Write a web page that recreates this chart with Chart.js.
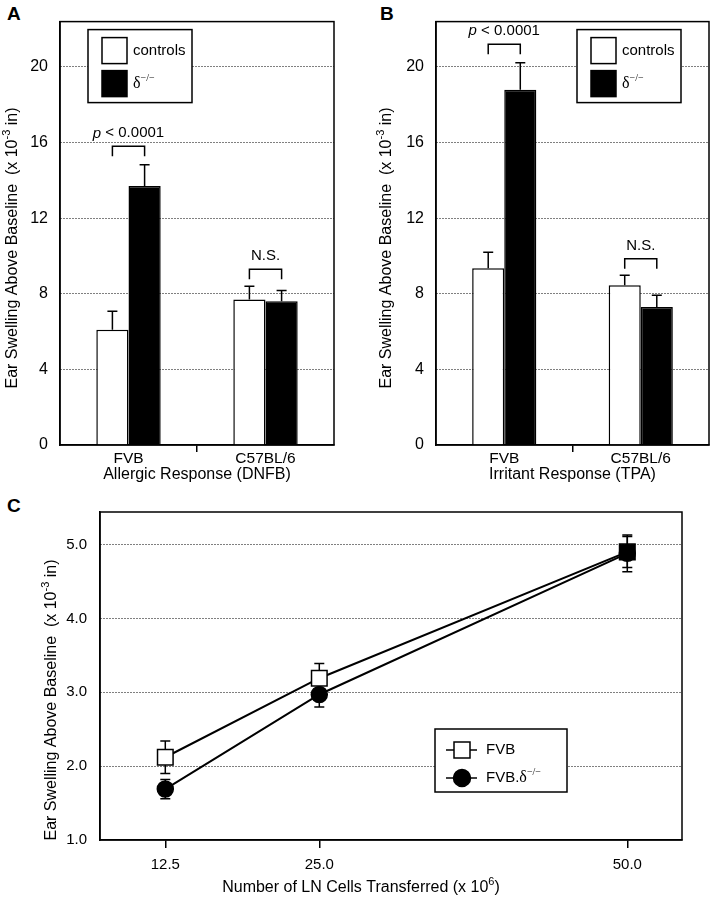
<!DOCTYPE html>
<html>
<head>
<meta charset="utf-8">
<script src="https://cdn.jsdelivr.net/npm/chart.js@4.4.1/dist/chart.umd.min.js"></script>
<style>
  body { margin: 0; background: #fff; width: 713px; height: 899px; position: relative; overflow: hidden;
         font-family: "Liberation Sans", Arial, sans-serif; }
  .panel { position: absolute; }
  .tag { position: absolute; font-weight: bold; font-size: 19px; line-height: 19px; }
</style>
</head>
<body>
<div class="tag" style="left:7px;top:4px">A</div>
<div class="tag" style="left:380px;top:4px">B</div>
<div class="tag" style="left:7px;top:496px">C</div>
<div class="panel" style="left:0;top:0;width:355px;height:490px"><canvas id="chartA"></canvas></div>
<div class="panel" style="left:355px;top:0;width:358px;height:490px"><canvas id="chartB"></canvas></div>
<div class="panel" style="left:0;top:490px;width:713px;height:409px"><canvas id="chartC"></canvas></div>
<script>
// --- data ---
const groups = ['FVB', 'C57BL/6'];
const barSeries = ['controls', 'δ^{−/−}'];
const barTicks = [0, 4, 8, 12, 16, 20];
const bracketTexts = ['*p* < 0.0001', 'N.S.'];

const allergicControls = [6.1, 7.7];
const allergicControlsErr = [0.97, 0.7];
const allergicKnockout = [13.7, 7.6];
const allergicKnockoutErr = [1.13, 0.58];
const allergicBrackets = [15.8, 9.3];

const irritantControls = [9.35, 8.45];
const irritantControlsErr = [0.85, 0.53];
const irritantKnockout = [18.8, 7.3];
const irritantKnockoutErr = [1.42, 0.62];
const irritantBrackets = [21.2, 9.85];

const cellCounts = [12.5, 25.0, 50.0];
const cellTicks = [12.5, 25.0, 50.0];
const swellTicks = [1, 2, 3, 4, 5];
const lineSeries = ['FVB', 'FVB.δ^{−/−}'];
const fvbSwelling = [2.12, 3.19, 4.9];
const fvbErr = [0.22, 0.2, 0.21];
const knockoutSwelling = [1.69, 2.97, 4.88];
const knockoutErr = [0.13, 0.17, 0.25];

const yTitle = 'Ear Swelling Above Baseline  (x 10^{-3} in)';
const cTitle = 'Number of LN Cells Transferred (x 10^{6})';

const ink = '#000';
const clear = 'rgba(0,0,0,0)';
const sans = '"Liberation Sans", Arial, sans-serif';
const serif = '"Liberation Serif", "Times New Roman", serif';

Chart.defaults.font.family = sans;
Chart.defaults.color = ink;

// small rich-text helper: ^{..} superscript, *..* italic, δ in serif
function parseRich(str, size) {
  const parts = [];
  let afterDelta = false;
  str.split(/(\^\{[^}]*\}|\*[^*]+\*|δ)/).forEach(tok => {
    if (!tok) return;
    if (tok.startsWith('^{')) {
      const fam = afterDelta ? serif : sans;
      parts.push({ text: tok.slice(2, -1), font: `${Math.round(size * 0.68)}px ${fam}`, dy: -size * 0.38 });
    } else if (tok.startsWith('*')) {
      parts.push({ text: tok.slice(1, -1), font: `italic ${size}px ${sans}` });
    } else if (tok === 'δ') {
      parts.push({ text: 'δ', font: `${size + 1}px ${serif}` });
    } else {
      parts.push({ text: tok, font: `${size}px ${sans}` });
    }
    afterDelta = tok === 'δ';
  });
  return parts;
}

function drawRich(ctx, str, size, x, y, align) {
  const parts = parseRich(str, size);
  let w = 0;
  parts.forEach(p => { ctx.font = p.font; w += ctx.measureText(p.text).width; });
  let cx = align === 'center' ? x - w / 2 : x;
  ctx.textAlign = 'left';
  ctx.textBaseline = 'middle';
  parts.forEach(p => {
    ctx.font = p.font;
    ctx.fillText(p.text, cx, y + (p.dy || 0));
    cx += ctx.measureText(p.text).width;
  });
}

function drawYTitle(ctx, x, y) {
  ctx.save();
  ctx.translate(x, y);
  ctx.rotate(-Math.PI / 2);
  ctx.fillStyle = ink;
  drawRich(ctx, yTitle, 16, 0, 0, 'center');
  ctx.restore();
}

function makeBarChart(canvasId, controls, controlsErr, knockout, knockoutErr, bracketTops, xTitle, layout) {
  const errors = [controlsErr, knockoutErr];

  const decor = {
    id: 'decor',
    afterDatasetsDraw(chart) {
      const ctx = chart.ctx;
      const y = chart.scales.y;
      const a = chart.chartArea;
      ctx.save();
      ctx.strokeStyle = ink;
      ctx.fillStyle = ink;
      ctx.lineWidth = 1.5;

      // one-sided error bars
      chart.data.datasets.forEach((ds, i) => {
        chart.getDatasetMeta(i).data.forEach((bar, j) => {
          const top = y.getPixelForValue(ds.data[j] + errors[i][j]);
          ctx.beginPath();
          ctx.moveTo(bar.x, bar.y);
          ctx.lineTo(bar.x, top);
          ctx.moveTo(bar.x - 5, top);
          ctx.lineTo(bar.x + 5, top);
          ctx.stroke();
        });
      });

      // significance brackets
      const m0 = chart.getDatasetMeta(0).data;
      const m1 = chart.getDatasetMeta(1).data;
      bracketTops.forEach((v, j) => {
        const by = y.getPixelForValue(v);
        ctx.beginPath();
        ctx.moveTo(m0[j].x, by + 10);
        ctx.lineTo(m0[j].x, by);
        ctx.lineTo(m1[j].x, by);
        ctx.lineTo(m1[j].x, by + 10);
        ctx.stroke();
        drawRich(ctx, bracketTexts[j], 15, (m0[j].x + m1[j].x) / 2, by - 13, 'center');
      });

      // legend box
      const lx = a.left + layout.legendLeft;
      const ly = a.top + 8;
      ctx.fillStyle = '#fff';
      ctx.fillRect(lx, ly, 104, 73);
      ctx.strokeRect(lx, ly, 104, 73);
      chart.data.datasets.forEach((ds, i) => {
        const sy = ly + 8 + i * 33;
        ctx.fillStyle = ds.backgroundColor;
        ctx.fillRect(lx + 14, sy, 25, 26);
        ctx.strokeRect(lx + 14, sy, 25, 26);
        ctx.fillStyle = ink;
        drawRich(ctx, ds.label, 15, lx + 45, sy + 13, 'left');
      });

      // frame
      ctx.strokeRect(a.left, a.top, a.right - a.left, a.bottom - a.top);
      ctx.restore();

      drawYTitle(ctx, layout.yTitleX, layout.yTitleY);
    }
  };

  return new Chart(document.getElementById(canvasId), {
    type: 'bar',
    data: {
      labels: groups,
      datasets: [
        { label: barSeries[0], data: controls, backgroundColor: '#fff', borderColor: ink, borderWidth: 1.5 },
        { label: barSeries[1], data: knockout, backgroundColor: ink, borderColor: ink, borderWidth: 1.5 }
      ]
    },
    options: {
      animation: false,
      responsive: true,
      maintainAspectRatio: false,
      datasets: { bar: { barPercentage: 1, categoryPercentage: 0.47 } },
      layout: { padding: { top: 8, right: layout.padRight, left: 0, bottom: 0 } },
      plugins: { legend: { display: false }, tooltip: { enabled: false } },
      scales: {
        x: {
          grid: {
            offset: true,
            drawOnChartArea: false,
            drawTicks: true,
            tickLength: 7,
            lineWidth: 1.5,
            color: c => (c.index === 1 ? ink : clear)
          },
          border: { color: ink, width: 1.5 },
          ticks: { color: ink, font: { size: 15.5 }, padding: -3 },
          title: { display: true, text: xTitle, color: ink, font: { size: 16 }, padding: { top: 0, bottom: 6 } },
          afterFit: s => { s.height = 45; }
        },
        y: {
          min: 0,
          max: 22.4,
          afterBuildTicks: s => { s.ticks = barTicks.map(v => ({ value: v })); },
          grid: { drawTicks: false, lineWidth: 1, color: c => (c.tick && c.tick.value > 0 ? ink : clear) },
          border: { color: ink, width: 1.5, dash: [1, 2] },
          ticks: { color: ink, font: { size: 16 }, padding: 12 },
          afterFit: s => { s.width = layout.yAxisWidth; }
        }
      }
    },
    plugins: [decor]
  });
}

makeBarChart('chartA', allergicControls, allergicControlsErr, allergicKnockout, allergicKnockoutErr,
  allergicBrackets, 'Allergic Response (DNFB)',
  { yAxisWidth: 60, padRight: 21, legendLeft: 28, yTitleX: 13, yTitleY: 248 });

makeBarChart('chartB', irritantControls, irritantControlsErr, irritantKnockout, irritantKnockoutErr,
  irritantBrackets, 'Irritant Response (TPA)',
  { yAxisWidth: 81, padRight: 4, legendLeft: 141, yTitleX: 32, yTitleY: 248 });

// --- panel C: line chart ---
const lineErrors = [fvbErr, knockoutErr];

const lineDecor = {
  id: 'lineDecor',
  beforeDatasetsDraw(chart) {
    const ctx = chart.ctx;
    const y = chart.scales.y;
    ctx.save();
    ctx.strokeStyle = ink;
    ctx.lineWidth = 1.5;
    chart.data.datasets.forEach((ds, i) => {
      chart.getDatasetMeta(i).data.forEach((pt, j) => {
        const v = ds.data[j].y;
        const top = y.getPixelForValue(v + lineErrors[i][j]);
        const bot = y.getPixelForValue(v - lineErrors[i][j]);
        ctx.beginPath();
        ctx.moveTo(pt.x, top); ctx.lineTo(pt.x, bot);
        ctx.moveTo(pt.x - 5, top); ctx.lineTo(pt.x + 5, top);
        ctx.moveTo(pt.x - 5, bot); ctx.lineTo(pt.x + 5, bot);
        ctx.stroke();
      });
    });
    ctx.restore();
  },
  afterDatasetsDraw(chart) {
    const ctx = chart.ctx;
    const a = chart.chartArea;
    ctx.save();
    ctx.strokeStyle = ink;
    ctx.lineWidth = 1.5;

    // legend
    const lx = a.left + 335;
    const ly = a.top + 217;
    ctx.fillStyle = '#fff';
    ctx.fillRect(lx, ly, 132, 63);
    ctx.strokeRect(lx, ly, 132, 63);
    chart.data.datasets.forEach((ds, i) => {
      const cy = ly + 21 + i * 28;
      const cx = lx + 27;
      ctx.beginPath();
      ctx.moveTo(lx + 11, cy);
      ctx.lineTo(lx + 42, cy);
      ctx.stroke();
      ctx.beginPath();
      if (ds.pointStyle === 'rect') {
        ctx.fillStyle = '#fff';
        ctx.rect(cx - 8, cy - 8, 16, 16);
      } else {
        ctx.fillStyle = ink;
        ctx.arc(cx, cy, 8.5, 0, Math.PI * 2);
      }
      ctx.fill();
      ctx.stroke();
      ctx.fillStyle = ink;
      drawRich(ctx, ds.label, 15, lx + 51, cy, 'left');
    });

    // frame
    ctx.strokeRect(a.left, a.top, a.right - a.left, a.bottom - a.top);

    // x title
    ctx.fillStyle = ink;
    drawRich(ctx, cTitle, 16, 361, 398, 'center');
    ctx.restore();

    drawYTitle(ctx, 52, 210);
  }
};

new Chart(document.getElementById('chartC'), {
  type: 'line',
  data: {
    datasets: [
      {
        label: lineSeries[0],
        data: cellCounts.map((c, k) => ({ x: c, y: fvbSwelling[k] })),
        borderColor: ink,
        borderWidth: 2,
        pointStyle: 'rect',
        pointRadius: 11,
        pointBorderWidth: 1.5,
        pointBorderColor: ink,
        pointBackgroundColor: ['#fff', '#fff', ink]
      },
      {
        label: lineSeries[1],
        data: cellCounts.map((c, k) => ({ x: c, y: knockoutSwelling[k] })),
        borderColor: ink,
        borderWidth: 2,
        pointStyle: 'circle',
        pointRadius: 8,
        pointBorderWidth: 1.5,
        pointBorderColor: ink,
        pointBackgroundColor: ink
      }
    ]
  },
  options: {
    animation: false,
    responsive: true,
    maintainAspectRatio: false,
    layout: { padding: { top: 17, right: 31, left: 0, bottom: 0 } },
    plugins: { legend: { display: false }, tooltip: { enabled: false } },
    scales: {
      x: {
        type: 'linear',
        min: 7.2,
        max: 54.44,
        afterBuildTicks: s => { s.ticks = cellTicks.map(v => ({ value: v })); },
        grid: { drawOnChartArea: false, drawTicks: true, tickLength: 8, lineWidth: 1.5, color: ink },
        border: { color: ink, width: 1.5 },
        ticks: { color: ink, font: { size: 15 }, padding: 8, callback: v => v.toFixed(1) },
        afterFit: s => { s.height = 59; }
      },
      y: {
        min: 1,
        max: 5.44,
        afterBuildTicks: s => { s.ticks = swellTicks.map(v => ({ value: v })); },
        grid: { drawTicks: false, lineWidth: 1, color: c => (c.tick && c.tick.value > 1 ? ink : clear) },
        border: { color: ink, width: 1.5, dash: [1, 2] },
        ticks: { color: ink, font: { size: 15 }, padding: 13, callback: v => v.toFixed(1) },
        afterFit: s => { s.width = 100; }
      }
    }
  },
  plugins: [lineDecor]
});
</script>
</body>
</html>
